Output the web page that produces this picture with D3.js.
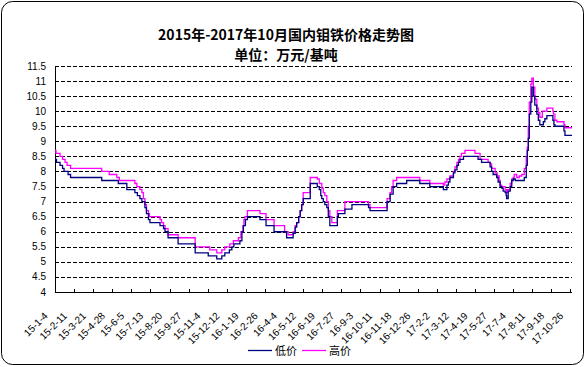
<!DOCTYPE html>
<html>
<head>
<meta charset="utf-8">
<script src="https://cdn.jsdelivr.net/npm/d3@7/dist/d3.min.js"></script>
<style>
  body { margin: 0; background: #fff; }
  svg { display: block; }
</style>
</head>
<body>
<svg id="chart" width="586" height="367"></svg>
<script>
// category axis labels (every 38 days)
var tickLabels = ["15-1-4","15-2-11","15-3-21","15-4-28","15-6-5","15-7-13","15-8-20","15-9-27",
  "15-11-4","15-12-12","16-1-19","16-2-26","16-4-4","16-5-12","16-6-19","16-7-27","16-9-3",
  "16-10-11","16-11-18","16-12-26","17-2-2","17-3-12","17-4-19","17-5-27","17-7-4","17-8-11",
  "17-9-18","17-10-26"];
var yTicks = [4,4.5,5,5.5,6,6.5,7,7.5,8,8.5,9,9.5,10,10.5,11,11.5];

// 低价 : dates where the price changes, and the new price
var lowDates = ["2015-01-04","2015-01-07","2015-01-14","2015-01-19","2015-01-22","2015-01-30","2015-02-04",
  "2015-04-07","2015-05-10","2015-05-27","2015-06-12","2015-06-17","2015-06-22","2015-06-26","2015-07-02",
  "2015-07-05","2015-07-09","2015-07-12","2015-08-01","2015-08-08","2015-08-11","2015-08-17","2015-09-06",
  "2015-10-10","2015-11-05","2015-11-22","2015-12-02","2015-12-08","2015-12-17","2015-12-22","2015-12-26",
  "2016-01-07","2016-01-11","2016-01-14","2016-01-18","2016-01-22","2016-02-16","2016-02-28","2016-03-15",
  "2016-04-09","2016-04-22","2016-04-26","2016-04-29","2016-05-03","2016-05-06","2016-05-09","2016-05-12",
  "2016-05-26","2016-06-09","2016-06-13","2016-06-16","2016-06-18","2016-06-21","2016-06-24","2016-06-28",
  "2016-07-01","2016-07-04","2016-07-19","2016-07-21","2016-08-03","2016-08-17","2016-09-19","2016-09-22",
  "2016-10-26","2016-11-01","2016-11-07","2016-11-14","2016-12-04","2016-12-30","2017-01-19","2017-02-15",
  "2017-02-22","2017-02-25","2017-02-28","2017-03-07","2017-03-10","2017-03-14","2017-03-17","2017-03-20",
  "2017-03-27","2017-04-25","2017-05-02","2017-05-19","2017-05-22","2017-05-25","2017-06-01","2017-06-04",
  "2017-06-08","2017-06-11","2017-06-14","2017-06-18","2017-06-20","2017-06-21","2017-06-24","2017-06-28",
  "2017-07-01","2017-07-04","2017-07-08","2017-07-26","2017-07-30","2017-08-01","2017-08-03","2017-08-05",
  "2017-08-08","2017-08-10","2017-08-13","2017-08-16","2017-08-20","2017-08-23","2017-08-26","2017-09-02",
  "2017-09-05","2017-09-09","2017-09-21","2017-09-23","2017-09-25","2017-10-13","2017-10-15"];
var lowValues = [8.4,8.3,8.2,8.1,8.0,7.9,7.8,
  7.7,7.6,7.4,7.3,7.2,7.1,7.0,6.8,
  6.6,6.4,6.3,6.2,6.1,6.0,5.8,5.6,
  5.3,5.2,5.1,5.2,5.3,5.4,5.5,5.6,
  5.7,6.0,6.2,6.4,6.5,6.4,6.2,6.0,
  5.8,5.95,6.15,6.3,6.5,6.7,6.9,7.1,
  7.6,7.5,7.4,7.2,7.1,7.0,6.9,6.8,
  6.5,6.2,6.5,6.6,6.75,6.9,6.8,6.7,
  7.0,7.25,7.5,7.6,7.7,7.6,7.5,7.4,
  7.55,7.65,7.8,7.95,8.05,8.2,8.3,8.4,
  8.5,8.4,8.3,8.15,8.0,7.9,7.8,7.65,
  7.5,7.45,7.35,7.3,7.2,7.1,7.35,7.5,
  7.7,7.75,7.7,7.8,8.2,8.7,9.1,9.9,
  10.3,10.8,10.5,10.2,9.9,9.7,9.55,9.65,
  9.75,9.85,9.7,9.55,9.5,9.35,9.2];

// 高价
var highDates = ["2015-01-04","2015-01-06","2015-01-14","2015-01-19","2015-01-24","2015-01-28","2015-02-04",
  "2015-04-07","2015-04-22","2015-05-07","2015-05-12","2015-06-12","2015-06-16","2015-06-22","2015-06-26",
  "2015-06-29","2015-07-02","2015-07-05","2015-07-09","2015-07-11","2015-08-01","2015-08-04","2015-08-08",
  "2015-08-11","2015-08-17","2015-09-06","2015-10-10","2015-11-08","2015-11-22","2015-12-02","2015-12-08",
  "2015-12-18","2015-12-25","2016-01-04","2016-01-09","2016-01-13","2016-01-15","2016-01-17","2016-01-22",
  "2016-02-16","2016-02-28","2016-03-15","2016-04-05","2016-04-12","2016-04-22","2016-04-26","2016-04-29",
  "2016-05-03","2016-05-06","2016-05-09","2016-05-12","2016-05-26","2016-06-09","2016-06-13","2016-06-18",
  "2016-06-21","2016-06-24","2016-06-28","2016-07-01","2016-07-04","2016-07-08","2016-07-19","2016-08-03",
  "2016-09-19","2016-09-22","2016-10-26","2016-11-01","2016-11-04","2016-11-07","2016-11-14","2016-12-30",
  "2017-01-19","2017-02-15","2017-02-18","2017-02-22","2017-02-28","2017-03-07","2017-03-10","2017-03-14",
  "2017-03-17","2017-03-20","2017-03-23","2017-03-30","2017-04-19","2017-04-29","2017-05-15","2017-05-19",
  "2017-05-22","2017-05-29","2017-06-02","2017-06-06","2017-06-08","2017-06-11","2017-06-18","2017-06-21",
  "2017-06-23","2017-06-28","2017-07-01","2017-07-04","2017-07-06","2017-07-11","2017-07-16","2017-07-21",
  "2017-07-26","2017-07-30","2017-08-01","2017-08-03","2017-08-05","2017-08-08","2017-08-10","2017-08-13",
  "2017-08-16","2017-08-20","2017-08-23","2017-08-26","2017-08-31","2017-09-09","2017-09-21","2017-09-22",
  "2017-09-25","2017-09-29","2017-10-13","2017-10-15"];
var highValues = [8.7,8.6,8.5,8.4,8.3,8.2,8.1,
  8.0,7.9,7.8,7.7,7.6,7.5,7.4,7.3,
  7.1,6.9,6.7,6.6,6.5,6.4,6.3,6.2,
  6.1,5.9,5.8,5.5,5.4,5.3,5.4,5.5,
  5.6,5.7,5.8,6.0,6.2,6.4,6.5,6.7,
  6.6,6.4,6.2,6.0,5.9,6.0,6.2,6.3,
  6.5,6.7,6.9,7.3,7.8,7.75,7.6,7.45,
  7.3,7.2,7.0,6.7,6.5,6.3,6.7,7.0,
  6.9,6.8,7.1,7.3,7.5,7.7,7.8,7.7,
  7.6,7.55,7.65,7.75,7.85,8.0,8.15,8.3,
  8.4,8.5,8.6,8.7,8.6,8.4,8.3,8.25,
  8.1,7.95,7.85,7.7,7.55,7.5,7.4,7.3,
  7.4,7.6,7.75,7.8,7.9,7.8,7.85,7.9,
  8.1,8.5,8.8,9.5,10.3,10.9,11.1,10.8,
  10.4,10.1,9.95,9.8,10.0,10.1,10.0,9.9,
  9.7,9.65,9.55,9.45];

var endDate = "2017-10-29";

var svg = d3.select("#chart");
var parse = d3.utcParse("%Y-%m-%d");
var parseLabel = d3.utcParse("%y-%m-%d");

var plotLeft = 55, plotRight = 572, plotTop = 66, plotBottom = 292;

var x = d3.scaleUtc().domain([parse("2015-01-04"), parse(endDate)]).range([plotLeft, plotRight]);
var y = d3.scaleLinear().domain([4, 11.5]).range([plotBottom, plotTop]);

// outer frame
svg.append("rect")
  .attr("x", 1.5).attr("y", 1.5).attr("width", 582).attr("height", 363)
  .attr("rx", 11).attr("ry", 11)
  .attr("fill", "#fff").attr("stroke", "#000").attr("stroke-width", 1);

// title
svg.append("text")
  .attr("x", 286).attr("y", 40)
  .attr("text-anchor", "middle")
  .style("font", "bold 14px 'Noto Sans CJK SC'")
  .text("2015年-2017年10月国内钼铁价格走势图");
svg.append("text")
  .attr("x", 286).attr("y", 60)
  .attr("text-anchor", "middle")
  .style("font", "bold 14px 'Noto Sans CJK SC'")
  .text("单位：万元/基吨");

// dashed grid
svg.append("g").selectAll("line")
  .data(yTicks.filter(function(d) { return d > 4; }))
  .enter().append("line")
  .attr("x1", plotLeft).attr("x2", plotRight)
  .attr("y1", function(d) { return Math.round(y(d)) + 0.5; })
  .attr("y2", function(d) { return Math.round(y(d)) + 0.5; })
  .attr("stroke", "#000")
  .attr("stroke-dasharray", "4,2");

// y labels
svg.append("g").selectAll("text")
  .data(yTicks)
  .enter().append("text")
  .attr("x", 46)
  .attr("y", function(d) { return y(d); })
  .attr("dy", "0.35em")
  .attr("text-anchor", "end")
  .style("font", "10px 'Liberation Sans', Arial, sans-serif")
  .text(function(d) { return d; });

// axes lines
svg.append("line").attr("x1", plotLeft + 0.5).attr("x2", plotLeft + 0.5)
  .attr("y1", plotTop).attr("y2", plotBottom + 0.5)
  .attr("stroke", "#000");
svg.append("line").attr("x1", plotLeft).attr("x2", plotRight)
  .attr("y1", plotBottom + 0.5).attr("y2", plotBottom + 0.5)
  .attr("stroke", "#000");

// x ticks and labels
var tickDates = tickLabels.map(function(s) { return parseLabel(s); });
svg.append("g").selectAll("line")
  .data(tickDates)
  .enter().append("line")
  .attr("x1", function(d) { return Math.round(x(d)) + 0.5; })
  .attr("x2", function(d) { return Math.round(x(d)) + 0.5; })
  .attr("y1", plotBottom - 3).attr("y2", plotBottom)
  .attr("stroke", "#000");

svg.append("g").selectAll("text")
  .data(tickLabels)
  .enter().append("text")
  .attr("transform", function(d, i) {
    return "translate(" + (x(tickDates[i]) - 9) + "," + 314 + ") rotate(-45)";
  })
  .attr("text-anchor", "end")
  .attr("dy", "0.35em")
  .style("font", "10px 'Liberation Sans', Arial, sans-serif")
  .text(function(d) { return d; });

// step lines
function series(dates, values) {
  var pts = dates.map(function(d, i) { return { date: parse(d), value: values[i] }; });
  pts.push({ date: parse(endDate), value: values[values.length - 1] });
  return pts;
}
var line = d3.line()
  .x(function(d) { return x(d.date); })
  .y(function(d) { return y(d.value); })
  .curve(d3.curveStepAfter);

svg.append("path")
  .datum(series(highDates, highValues))
  .attr("d", line)
  .attr("fill", "none")
  .attr("stroke", "#ff00ff")
  .attr("stroke-width", 1.3);

svg.append("path")
  .datum(series(lowDates, lowValues))
  .attr("d", line)
  .attr("fill", "none")
  .attr("stroke", "#000080")
  .attr("stroke-width", 1.3);

// legend
var legend = svg.append("g").style("font", "11px 'Noto Sans CJK SC'");
legend.append("line").attr("x1", 248).attr("x2", 272).attr("y1", 350.5).attr("y2", 350.5)
  .attr("stroke", "#000080").attr("stroke-width", 1.3);
legend.append("text").attr("x", 275).attr("y", 351).attr("dy", "0.35em").text("低价");
legend.append("line").attr("x1", 302).attr("x2", 326).attr("y1", 350.5).attr("y2", 350.5)
  .attr("stroke", "#ff00ff").attr("stroke-width", 1.3);
legend.append("text").attr("x", 329).attr("y", 351).attr("dy", "0.35em").text("高价");
</script>
</body>
</html>
